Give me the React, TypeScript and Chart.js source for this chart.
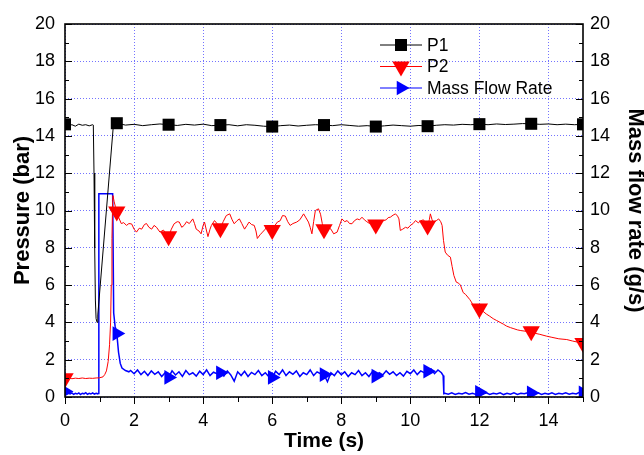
import React, { useEffect, useRef } from "react";
import { Chart, registerables } from "chart.js";
import { drawPoint } from "chart.js/helpers";

Chart.register(...registerables);

// ---------------- data ----------------
const seriesNames = ["P1", "P2", "Mass Flow Rate"];
const markerTimes = [0, 1.5, 3, 4.5, 6, 7.5, 9, 10.5, 12, 13.5, 15];
const xTickValues = [0, 2, 4, 6, 8, 10, 12, 14];
const yTickValues = [0, 2, 4, 6, 8, 10, 12, 14, 16, 18, 20];

// P1 pressure (bar): [time s, value]
const p1Trace: [number, number][] = [
  [0, 14.62], [0.1, 14.55], [0.2, 14.6], [0.3, 14.52], [0.4, 14.63], [0.5, 14.57], [0.6, 14.6], [0.7, 14.54],
  [0.8, 14.6], [0.82, 14.58], [0.84, 12.0], [0.86, 8.0], [0.88, 5.2], [0.9, 4.2], [0.93, 4.0], [0.95, 4.4],
  [1.4, 14.55], [1.5, 14.68], [1.75, 14.58], [2, 14.62], [2.25, 14.55], [2.5, 14.6], [2.75, 14.64], [3, 14.6],
  [3.25, 14.56], [3.5, 14.62], [3.75, 14.58], [4, 14.63], [4.25, 14.55], [4.5, 14.58], [4.75, 14.6], [5, 14.54],
  [5.25, 14.6], [5.5, 14.57], [5.75, 14.52], [6, 14.5], [6.25, 14.55], [6.5, 14.58], [6.75, 14.53], [7, 14.57],
  [7.25, 14.6], [7.5, 14.58], [7.75, 14.55], [8, 14.6], [8.25, 14.56], [8.5, 14.52], [8.75, 14.55], [9, 14.5],
  [9.25, 14.54], [9.5, 14.58], [9.75, 14.55], [10, 14.52], [10.25, 14.56], [10.5, 14.52], [10.75, 14.57], [11, 14.6],
  [11.25, 14.58], [11.5, 14.62], [11.75, 14.6], [12, 14.63], [12.25, 14.6], [12.5, 14.64], [12.75, 14.61], [13, 14.63],
  [13.25, 14.66], [13.5, 14.65], [13.75, 14.62], [14, 14.64], [14.25, 14.6], [14.5, 14.63], [14.75, 14.6], [15, 14.62],
];

// P2 pressure (bar)
const p2Trace: [number, number][] = [
  [0, 1.0], [0.1, 1.03], [0.2, 0.98], [0.3, 1.01], [0.4, 0.99], [0.5, 1.02], [0.6, 0.99], [0.7, 1.01], [0.8, 1.0],
  [0.9, 1.02], [1.0, 1.03], [1.1, 1.08], [1.15, 1.2], [1.2, 1.4], [1.25, 1.9], [1.29, 2.8], [1.32, 4.0], [1.34, 6.0],
  [1.36, 8.5], [1.38, 10.5], [1.39, 10.8], [1.42, 10.5], [1.46, 10.2], [1.5, 9.95], [1.56, 9.6], [1.63, 9.3],
  [1.7, 9.35], [1.78, 9.2], [1.85, 9.3], [1.93, 9.28], [2.0, 9.0], [2.07, 8.84], [2.15, 9.05], [2.22, 9.0],
  [2.3, 9.25], [2.36, 9.3], [2.43, 9.1], [2.51, 9.0], [2.58, 9.2], [2.65, 9.1], [2.75, 8.84], [2.85, 8.95],
  [3.0, 8.62], [3.08, 9.0], [3.16, 9.29], [3.25, 9.4], [3.31, 9.38], [3.38, 9.1], [3.45, 9.2], [3.52, 9.4],
  [3.6, 9.3], [3.7, 9.55], [3.75, 9.3], [3.8, 9.0], [3.88, 8.9], [3.94, 8.75], [4.0, 9.2], [4.04, 9.38],
  [4.1, 8.9], [4.14, 8.6], [4.2, 9.0], [4.24, 9.2], [4.33, 9.46], [4.4, 9.3], [4.5, 9.05], [4.58, 9.4],
  [4.67, 9.73], [4.77, 9.82], [4.84, 9.5], [4.9, 9.29], [4.98, 9.45], [5.05, 9.55], [5.12, 9.3], [5.2, 9.0],
  [5.27, 9.2], [5.33, 9.38], [5.4, 9.25], [5.48, 9.2], [5.53, 8.9], [5.57, 8.5], [5.65, 8.7], [5.72, 8.84],
  [5.8, 9.0], [5.86, 9.2], [5.93, 9.1], [6.0, 8.95], [6.08, 9.2], [6.15, 9.38], [6.23, 9.45], [6.3, 9.73],
  [6.38, 9.7], [6.45, 9.4], [6.52, 9.2], [6.6, 9.3], [6.71, 9.38], [6.8, 9.5], [6.91, 9.82], [6.98, 9.6],
  [7.05, 9.38], [7.1, 9.1], [7.15, 8.75], [7.2, 9.4], [7.25, 10.0], [7.34, 10.09], [7.4, 9.8], [7.45, 9.3],
  [7.5, 9.0], [7.56, 9.05], [7.63, 9.1], [7.7, 9.0], [7.78, 8.75], [7.88, 8.84], [7.95, 9.2], [8.02, 9.55],
  [8.1, 9.4], [8.17, 9.46], [8.24, 9.3], [8.31, 9.29], [8.38, 9.45], [8.46, 9.55], [8.53, 9.5], [8.6, 9.64],
  [8.67, 9.5], [8.74, 9.4], [8.82, 9.3], [8.9, 9.35], [9.0, 9.25], [9.08, 9.4], [9.15, 9.35], [9.23, 9.46],
  [9.3, 9.5], [9.36, 9.62], [9.42, 9.64], [9.5, 9.75], [9.57, 9.82], [9.63, 9.7], [9.67, 9.55], [9.71, 8.93],
  [9.78, 9.0], [9.86, 9.1], [9.93, 9.05], [10.0, 9.2], [10.08, 9.3], [10.15, 9.46], [10.23, 9.34], [10.3, 9.45],
  [10.38, 9.5], [10.45, 9.3], [10.5, 9.2], [10.55, 9.5], [10.58, 9.82], [10.63, 9.5], [10.68, 9.38], [10.75, 9.45],
  [10.82, 9.55], [10.88, 9.4], [10.92, 9.2], [10.96, 8.4], [11.01, 7.77], [11.08, 7.6], [11.16, 7.5], [11.21, 7.0],
  [11.26, 6.52], [11.33, 6.16], [11.4, 6.1], [11.45, 6.0], [11.53, 5.6], [11.6, 5.5], [11.72, 5.23], [11.8, 5.0],
  [11.92, 4.7], [12.0, 4.75], [12.1, 4.6], [12.2, 4.45], [12.3, 4.33], [12.4, 4.2], [12.5, 4.1], [12.6, 4.0],
  [12.7, 3.9], [12.79, 3.8], [12.9, 3.72], [13.0, 3.66], [13.1, 3.6], [13.2, 3.56], [13.37, 3.52], [13.5, 3.52],
  [13.6, 3.42], [13.75, 3.36], [13.95, 3.26], [14.1, 3.2], [14.3, 3.12], [14.53, 3.08], [14.7, 3.0], [14.9, 2.92],
  [15.0, 2.9],
];

// Mass flow rate (g/s)
const mfrTrace: [number, number][] = [
  [0, 0.3], [0.05, 0.24], [0.1, 0.2], [0.15, 0.16], [0.2, 0.22], [0.25, 0.14], [0.3, 0.2], [0.35, 0.16],
  [0.4, 0.22], [0.45, 0.13], [0.5, 0.2], [0.55, 0.17], [0.6, 0.23], [0.65, 0.14], [0.7, 0.2], [0.75, 0.16],
  [0.8, 0.22], [0.85, 0.15], [0.9, 0.2], [0.95, 0.17], [0.97, 0.19], [0.98, 10.9], [1.38, 10.9], [1.41, 4.5],
  [1.45, 3.8], [1.5, 3.4], [1.55, 2.4], [1.6, 1.8], [1.65, 1.55], [1.75, 1.42], [1.85, 1.35],
  [1.9, 1.42], [2.0, 1.25], [2.1, 1.45], [2.2, 1.2], [2.3, 1.38], [2.4, 1.15], [2.5, 1.4], [2.6, 1.22],
  [2.7, 1.35], [2.8, 1.1], [2.9, 1.3], [3.0, 1.05], [3.1, 1.4], [3.2, 1.18], [3.3, 1.35], [3.4, 1.1],
  [3.5, 1.42], [3.6, 1.2], [3.7, 1.3], [3.8, 1.12], [3.9, 1.38], [4.0, 1.2], [4.1, 1.45], [4.2, 1.15],
  [4.3, 1.33], [4.4, 1.25], [4.5, 1.3], [4.6, 1.12], [4.7, 1.4], [4.8, 1.18], [4.9, 0.85], [5.0, 1.35],
  [5.1, 1.15], [5.2, 1.38], [5.3, 1.1], [5.4, 1.32], [5.5, 1.2], [5.6, 1.42], [5.7, 1.15], [5.8, 1.3],
  [5.9, 1.1], [6.0, 1.05], [6.1, 1.38], [6.2, 1.2], [6.3, 1.45], [6.4, 1.15], [6.5, 1.35], [6.6, 1.22],
  [6.7, 1.4], [6.8, 1.1], [6.9, 1.3], [7.0, 1.2], [7.1, 1.45], [7.2, 1.15], [7.3, 1.35], [7.4, 1.25],
  [7.5, 1.2], [7.6, 0.82], [7.7, 1.3], [7.8, 1.15], [7.9, 1.4], [8.0, 1.2], [8.1, 1.35], [8.2, 1.1],
  [8.3, 1.3], [8.4, 1.2], [8.5, 1.42], [8.6, 1.15], [8.7, 1.3], [8.8, 1.1], [8.9, 1.35], [9.0, 1.12],
  [9.1, 1.3], [9.2, 1.18], [9.3, 1.4], [9.4, 1.22], [9.5, 1.35], [9.6, 1.15], [9.7, 1.3], [9.8, 1.12],
  [9.9, 1.38], [10.0, 1.25], [10.1, 1.45], [10.2, 1.2], [10.3, 1.4], [10.4, 1.3], [10.5, 1.38], [10.6, 1.5],
  [10.7, 1.25], [10.8, 1.45], [10.9, 1.3], [10.95, 1.15], [10.97, 0.18], [11.0, 0.2], [11.1, 0.15], [11.2, 0.22],
  [11.3, 0.14], [11.4, 0.2], [11.5, 0.16], [11.6, 0.24], [11.7, 0.15], [11.8, 0.2], [11.9, 0.14], [12.0, 0.25],
  [12.1, 0.18], [12.2, 0.22], [12.3, 0.14], [12.4, 0.2], [12.5, 0.16], [12.6, 0.22], [12.7, 0.13], [12.8, 0.2],
  [12.9, 0.15], [13.0, 0.22], [13.1, 0.14], [13.2, 0.2], [13.3, 0.17], [13.4, 0.23], [13.5, 0.22], [13.6, 0.16],
  [13.7, 0.22], [13.8, 0.14], [13.9, 0.2], [14.0, 0.15], [14.1, 0.22], [14.2, 0.14], [14.3, 0.2], [14.4, 0.16],
  [14.5, 0.22], [14.6, 0.15], [14.7, 0.2], [14.8, 0.16], [14.9, 0.25], [15.0, 0.22],
];

// ---------------- styling ----------------
const FONT = "'Liberation Sans', Arial, sans-serif";
const GRID_COLOR = "rgba(40, 40, 255, 0.65)";
const seriesColors = ["#000000", "#ff0000", "#0000ff"];
const seriesStyles = ["rect", "triangle", "triangle"];
const seriesRotations = [0, 180, 90];
const seriesRadii = [8.5, 10, 8.5];
const seriesLineWidths = [1, 1, 1.5];

const toPoints = (trace: [number, number][]) => trace.map(([x, y]) => ({ x, y }));

const makeDataset = (i: number, trace: [number, number][], axis: string, order: number) => ({
  label: seriesNames[i],
  data: toPoints(trace),
  yAxisID: axis,
  borderColor: seriesColors[i],
  backgroundColor: seriesColors[i],
  borderWidth: seriesLineWidths[i],
  tension: 0,
  order,
  pointStyle: seriesStyles[i],
  pointRotation: seriesRotations[i],
  pointBackgroundColor: seriesColors[i],
  pointBorderColor: seriesColors[i],
  pointBorderWidth: 0,
  pointRadius: (c: any) => (c.raw && markerTimes.includes(c.raw.x) ? seriesRadii[i] : 0),
  pointHoverRadius: 0,
});

const framePlugin = {
  id: "frameTicks",
  afterDatasetsDraw(chart: any) {
    const { ctx, chartArea, scales } = chart;
    const { left, right, top, bottom } = chartArea;
    ctx.save();
    ctx.strokeStyle = "#000";
    ctx.lineWidth = 1;
    const line = (x1: number, y1: number, x2: number, y2: number) => {
      ctx.beginPath();
      ctx.moveTo(x1, y1);
      ctx.lineTo(x2, y2);
      ctx.stroke();
    };
    const xs = scales.x;
    for (let v = xs.min; v <= xs.max + 1e-9; v += 1) {
      const px = Math.round(xs.getPixelForValue(v)) + 0.5;
      line(px, bottom, px, bottom + (v % 2 === 0 ? 7 : 5));
    }
    const ys = scales.y;
    for (let v = ys.min; v <= ys.max + 1e-9; v += 1) {
      const py = Math.round(ys.getPixelForValue(v)) + 0.5;
      line(left, py, left + (v % 2 === 0 ? 7 : 4), py);
    }
    const y1 = scales.y1;
    for (let v = y1.min; v <= y1.max + 1e-9; v += 1) {
      const py = Math.round(y1.getPixelForValue(v)) + 0.5;
      line(right, py, right - (v % 2 === 0 ? 7 : 4), py);
    }
    ctx.lineWidth = 1.6;
    ctx.strokeRect(left, top, right - left, bottom - top);
    ctx.restore();
  },
};

const LEGEND_X = 380;
const LEGEND_Y = 45;
const LEGEND_ROW = 21.5;

const legendPlugin = {
  id: "lineSymbolLegend",
  afterDraw(chart: any) {
    const { ctx } = chart;
    ctx.save();
    seriesNames.forEach((name, i) => {
      const y = LEGEND_Y + i * LEGEND_ROW;
      ctx.strokeStyle = seriesColors[i];
      ctx.lineWidth = 1;
      ctx.beginPath();
      ctx.moveTo(LEGEND_X, y);
      ctx.lineTo(LEGEND_X + 42, y);
      ctx.stroke();
      ctx.fillStyle = seriesColors[i];
      drawPoint(
        ctx,
        { pointStyle: seriesStyles[i], rotation: seriesRotations[i], radius: seriesRadii[i], borderWidth: 0 } as any,
        LEGEND_X + 21,
        y
      );
      ctx.fillStyle = "#000";
      ctx.font = `17.5px ${FONT}`;
      ctx.textBaseline = "middle";
      ctx.textAlign = "left";
      ctx.fillText(name, LEGEND_X + 47, y + 1);
    });
    ctx.restore();
  },
};

const tickFont = { family: FONT, size: 18 };
const titleFont = { family: FONT, size: 21, weight: "bold" as const };

export default function App() {
  const ref = useRef<HTMLCanvasElement>(null);

  useEffect(() => {
    if (!ref.current) return;
    const chart = new Chart(ref.current, {
      type: "line",
      data: {
        datasets: [
          makeDataset(0, p1Trace, "y", 0),
          makeDataset(1, p2Trace, "y", 1),
          makeDataset(2, mfrTrace, "y1", 2),
        ] as any,
      },
      options: {
        animation: false,
        responsive: false,
        devicePixelRatio: 1,
        events: [],
        layout: { padding: { top: 24, left: 0, right: 0, bottom: 0 } },
        plugins: { legend: { display: false }, tooltip: { enabled: false } },
        scales: {
          x: {
            type: "linear",
            position: "bottom",
            min: 0,
            max: 15,
            afterFit: (s: any) => {
              s.height = 58;
            },
            afterBuildTicks: (s: any) => {
              s.ticks = xTickValues.map((v) => ({ value: v }));
            },
            ticks: { color: "#000", font: tickFont, padding: 13, maxRotation: 0, autoSkip: false },
            grid: { color: GRID_COLOR, lineWidth: 1, drawTicks: false },
            border: { display: false, dash: [1, 2] },
            title: {
              display: true,
              text: "Time (s)",
              color: "#000",
              font: titleFont,
              padding: { top: 0, bottom: 1 },
            },
          },
          y: {
            type: "linear",
            position: "left",
            min: 0,
            max: 20,
            afterFit: (s: any) => {
              s.width = 65;
            },
            afterBuildTicks: (s: any) => {
              s.ticks = yTickValues.map((v) => ({ value: v }));
            },
            ticks: { color: "#000", font: tickFont, padding: 10 },
            grid: { color: GRID_COLOR, lineWidth: 1, drawTicks: false },
            border: { display: false, dash: [1, 2] },
            title: {
              display: true,
              text: "Pressure (bar)",
              color: "#000",
              font: { ...titleFont, size: 22 },
              padding: { top: 10, bottom: 0 },
            },
          },
          y1: {
            type: "linear",
            position: "right",
            min: 0,
            max: 20,
            afterFit: (s: any) => {
              s.width = 61;
            },
            afterBuildTicks: (s: any) => {
              s.ticks = yTickValues.map((v) => ({ value: v }));
            },
            ticks: { color: "#000", font: tickFont, padding: 7 },
            grid: { display: false, drawTicks: false },
            border: { display: false },
            title: {
              display: true,
              text: "Mass flow rate (g/s)",
              color: "#000",
              font: { ...titleFont, size: 22 },
              padding: { top: -4, bottom: 0 },
            },
          },
        },
      } as any,
      plugins: [framePlugin, legendPlugin],
    });
    return () => chart.destroy();
  }, []);

  return (
    <div style={{ position: "absolute", left: 0, top: 0, width: 644, height: 455, background: "#fff" }}>
      <canvas ref={ref} width={644} height={455} style={{ display: "block", width: 644, height: 455 }} />
    </div>
  );
}
